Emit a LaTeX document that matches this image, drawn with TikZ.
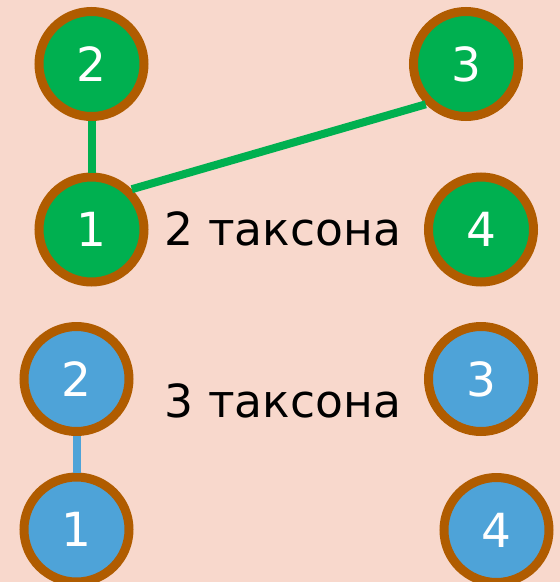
\documentclass[tikz,border=0pt]{standalone}
\usepackage{fontspec}
\setmainfont{DejaVu Sans}
\definecolor{bgpeach}{RGB}{248,216,204}
\definecolor{taxgreen}{RGB}{0,176,80}
\definecolor{taxblue}{RGB}{78,163,216}
\definecolor{rimbrown}{RGB}{176,92,0}
\tikzset{
  taxon/.style={circle, draw=rimbrown, line width=9pt, minimum size=105pt,
    inner sep=0pt, text=white, font=\fontsize{47}{50}\selectfont},
  gtaxon/.style={taxon, fill=taxgreen},
  btaxon/.style={taxon, fill=taxblue},
  glink/.style={draw=taxgreen, line width=8pt},
  blink/.style={draw=taxblue, line width=8pt},
  caption/.style={font=\fontsize{45.6}{50}\selectfont, text=black, inner sep=0pt}
}
\begin{document}
\begin{tikzpicture}[x=1pt,y=-1pt]
\fill[bgpeach] (0,0) rectangle (560,582);
\useasboundingbox (0,0) rectangle (560,582);
% two taxa
\node[gtaxon] (g2) at (91.5,64) {2};
\node[gtaxon] (g3) at (466,64) {3};
\node[gtaxon] (g1) at (91.5,229.5) {1};
\node[gtaxon] (g4) at (481,229.5) {4};
\draw[glink] (g2) -- (g1);
\draw[glink] (g1.north east) -- (g3.south west);
\node[caption] (c2) at (283,229) {2 таксона};
% three taxa
\node[btaxon] (b2) at (76.5,379) {2};
\node[btaxon] (b3) at (481,379) {3};
\node[btaxon] (b1) at (76.5,529.5) {1};
\node[btaxon] (b4) at (496.5,530) {4};
\draw[blink] (b2) -- (b1);
\node[caption] (c3) at (283,401) {3 таксона};
\end{tikzpicture}
\end{document}
